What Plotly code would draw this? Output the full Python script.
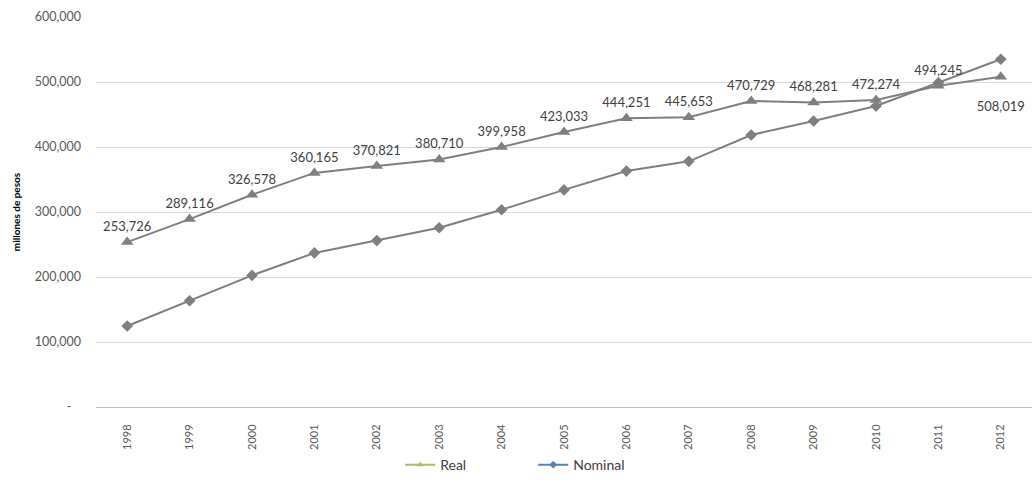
import plotly.graph_objects as go

years = ["1998", "1999", "2000", "2001", "2002", "2003", "2004", "2005",
         "2006", "2007", "2008", "2009", "2010", "2011", "2012"]
real = [253726, 289116, 326578, 360165, 370821, 380710, 399958, 423033,
        444251, 445653, 470729, 468281, 472274, 494245, 508019]
nominal = [124600, 163500, 202500, 237000, 256000, 275800, 303500, 334000,
           363000, 378000, 418500, 440000, 463000, 499000, 535000]
y_ticks = [0, 100000, 200000, 300000, 400000, 500000, 600000]
y_tick_labels = ["-\u00a0\u00a0\u00a0", "100,000", "200,000", "300,000",
                 "400,000", "500,000", "600,000"]

LINE_GREY = "#7f7f7f"
FONT = "Lato, 'Open Sans', sans-serif"

xs = list(range(len(years)))
real_text = [f"{v:,}" for v in real]
real_text[-1] = "<br>" + real_text[-1]
real_pos = ["top center"] * (len(years) - 1) + ["bottom center"]

fig = go.Figure()

# Plotted series (both drawn in grey)
fig.add_trace(go.Scatter(
    x=xs, y=nominal, mode="lines+markers", showlegend=False,
    line=dict(color=LINE_GREY, width=2),
    marker=dict(symbol="diamond", size=9, color=LINE_GREY),
    hoverinfo="skip",
))
fig.add_trace(go.Scatter(
    x=xs, y=real, mode="lines+markers+text", showlegend=False,
    line=dict(color=LINE_GREY, width=2),
    marker=dict(symbol="triangle-up", size=11, color=LINE_GREY),
    text=real_text, textposition=real_pos,
    textfont=dict(family=FONT, size=13, color="#404040"),
    hoverinfo="skip",
))

# Legend entries
fig.add_trace(go.Scatter(
    x=[None], y=[None], mode="lines+markers", name="Real",
    line=dict(color="#a9bd6a", width=2),
    marker=dict(symbol="triangle-up", size=6, color="#a9bd6a"),
))
fig.add_trace(go.Scatter(
    x=[None], y=[None], mode="lines+markers", name="Nominal",
    line=dict(color="#5b7fb8", width=2),
    marker=dict(symbol="diamond", size=6, color="#5b7fb8"),
))

fig.update_layout(
    width=1035, height=483,
    margin=dict(l=96, r=3, t=17, b=75),
    paper_bgcolor="white", plot_bgcolor="white",
    font=dict(family=FONT, color="#595959"),
    legend=dict(
        orientation="h", x=0.325, xanchor="left", y=-0.146, yanchor="middle",
        font=dict(family=FONT, size=14, color="#404040"),
        itemwidth=30, traceorder="normal",
        entrywidth=88, entrywidthmode="pixels",
    ),
    xaxis=dict(
        range=[-0.5, len(years) - 0.5],
        tickmode="array", tickvals=xs, ticktext=years,
        tickangle=-90, tickfont=dict(family=FONT, size=11, color="#595959"),
        showgrid=False, zeroline=False,
        showline=True, linecolor="#bfbfbf", linewidth=1,
        ticks="", ticklabelstandoff=12, fixedrange=True,
    ),
    yaxis=dict(
        range=[0, 600000],
        tickmode="array", tickvals=y_ticks, ticktext=y_tick_labels,
        tickfont=dict(family=FONT, size=12.5, color="#595959"),
        showgrid=True, gridcolor="#d9d9d9", gridwidth=1,
        zeroline=False, showline=False, ticks="", ticklabelstandoff=14,
        title=dict(text="<b>millones de pesos</b>",
                   font=dict(family=FONT, size=10, color="#000000"),
                   standoff=12),
    ),
)

fig.write_html("out.html")
